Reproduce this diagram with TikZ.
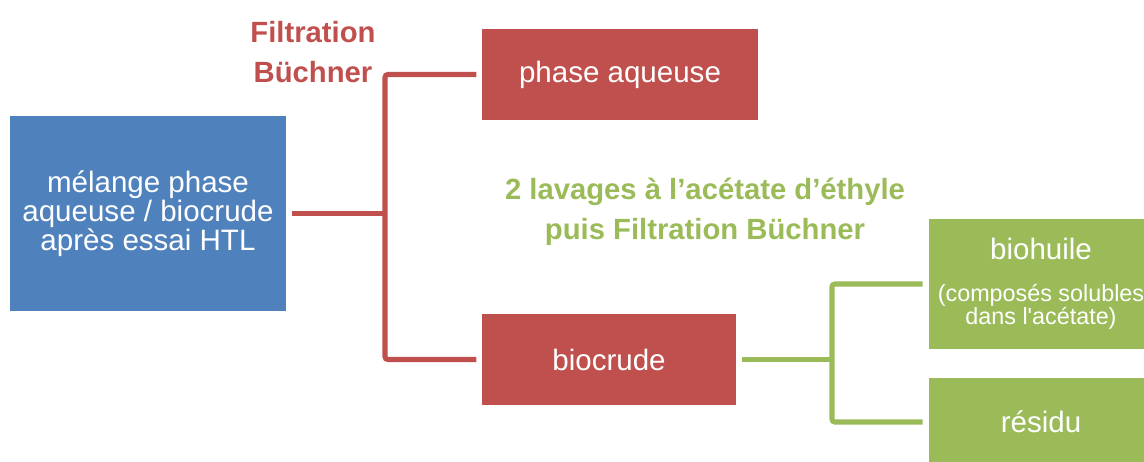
\documentclass[tikz,border=0pt]{standalone}
\usepackage{fontspec}
\setmainfont{Liberation Sans}
\definecolor{boxblue}{HTML}{4F81BD}
\definecolor{boxred}{HTML}{C0504D}
\definecolor{boxgreen}{HTML}{9BBB59}
\newcommand{\notefs}{\fontsize{16.6}{16.4}\selectfont}
\tikzset{
  box/.style={rectangle, inner sep=0pt, text=white, align=center, font=\fontsize{21}{20.6}\selectfont},
  redln/.style={draw=boxred, line width=3.6pt, rounded corners=2pt},
  grnln/.style={draw=boxgreen, line width=3.6pt, rounded corners=2pt},
  steplabel/.style={align=center, font=\bfseries\fontsize{20.8}{28.5}\selectfont}
}
\begin{document}
\begin{tikzpicture}[x=0.025cm, y=-0.025cm]
\clip (0,0) rectangle (1144,461);
\node[box, fill=boxblue, minimum width=6.9cm, minimum height=4.875cm] (mix) at (148,213.5) {mélange phase\\aqueuse / biocrude\\après essai HTL};
\node[box, fill=boxred, minimum width=6.9cm, minimum height=2.275cm] (aq) at (620,74.5) {phase aqueuse};
\node[box, fill=boxred, minimum width=6.35cm, minimum height=2.275cm] (bc) at (609,359.5) {biocrude};
\node[box, fill=boxgreen, minimum width=5.6cm, minimum height=3.25cm] (oil) at (1041,284) {biohuile\\[9pt]\notefs (composés solubles\\[-4pt]\notefs dans l\textquotesingle acétate)};
\node[box, fill=boxgreen, minimum width=5.6cm, minimum height=2.2cm] (res) at (1041,422) {résidu};
\node[steplabel, text=boxred] (filt) at (313,52) {Filtration\\Büchner};
\node[steplabel, text=boxgreen] (wash) at (705,212) {2 lavages à l’acétate d’éthyle\\puis Filtration Büchner};
\coordinate (fork1) at (385,213.5);
\coordinate (fork2) at (832,359.5);
\draw[redln, shorten <=0.15cm] (mix.east) -- (fork1);
\draw[redln, shorten <=0.13cm, shorten >=0.13cm] (aq.west) -| (fork1) |- (bc.west);
\draw[grnln, shorten <=0.13cm] (bc.east) -- (fork2);
\draw[grnln, shorten <=0.15cm, shorten >=0.15cm] (oil.west) -| (fork2) |- (res.west);
\end{tikzpicture}
\end{document}
